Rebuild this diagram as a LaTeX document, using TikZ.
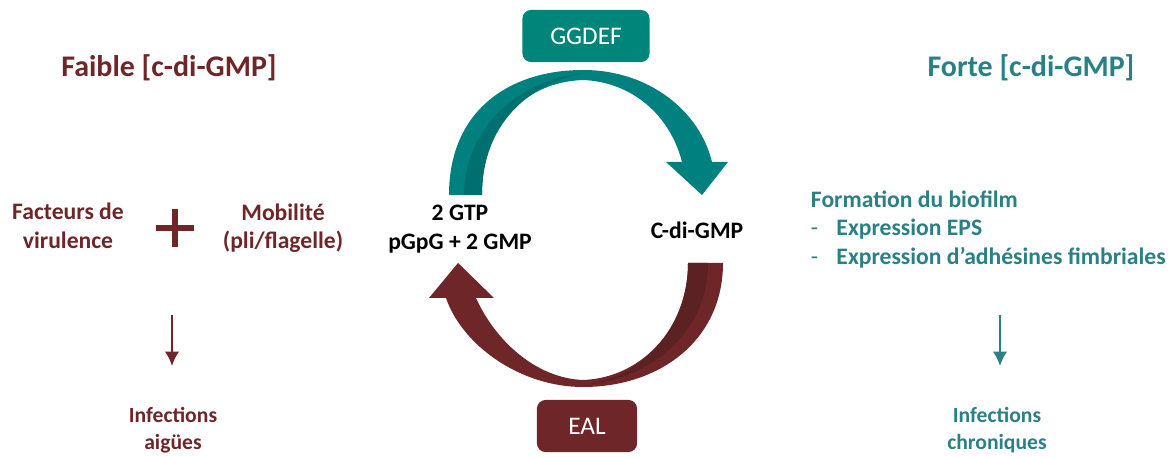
\documentclass[tikz,border=0pt]{standalone}
\usepackage{fontspec}
\setmainfont{Carlito}
\usetikzlibrary{arrows,arrows.meta,calc,positioning}
\definecolor{wine}{HTML}{6E2629}
\definecolor{winedark}{HTML}{5C2223}
\definecolor{teal1}{HTML}{2A8185}
\definecolor{tealbox}{HTML}{00857A}
\definecolor{tealarrow}{HTML}{00807F}
\definecolor{tealdark}{HTML}{006F70}
\tikzstyle{title}=[font=\fontsize{21.3}{25}\selectfont\bfseries]
\tikzstyle{txt}=[font=\fontsize{16.8}{20.2}\selectfont\bfseries,align=center]
\tikzstyle{small}=[font=\fontsize{15.4}{19.5}\selectfont\bfseries,align=center]
\tikzstyle{enz}=[rounded corners=6pt,text=white,minimum height=1.3cm,font=\fontsize{18}{21}\selectfont]
\tikzstyle{down}=[-{Latex[length=0.36cm,width=0.36cm]},line width=1.5pt]

\begin{document}
\begin{tikzpicture}[
      x=0.025cm,y=-0.025cm,
      >=latex'
    ]
      \useasboundingbox (0,0) rectangle (1176,457);

      % top arrow (GGDEF)
      \fill[tealarrow] (449,195) .. controls (449,110) and (510,70) .. (583,70)
        .. controls (650,70) and (700,112) .. (712,162) -- (728,162) -- (702,195)
        -- (666,162) -- (682,162) .. controls (670,115) and (632,82) .. (583,80)
        .. controls (525,82) and (482,125) .. (482,195) -- cycle;
      \fill[tealdark] (464,195) .. controls (465,124) and (522,80) .. (583,73)
        .. controls (528,84) and (482,125) .. (482,195) -- cycle;

      % bottom arrow (EAL)
      \fill[wine] (723,263) .. controls (723,340) and (660,387) .. (583,387)
        .. controls (520,387) and (462,345) .. (446,298) -- (429,298) -- (458,263)
        -- (494,298) -- (476,298) .. controls (495,340) and (535,378) .. (583,380)
        .. controls (640,378) and (688,330) .. (688,263) -- cycle;
      \fill[winedark] (708,263) .. controls (708,333) and (650,380) .. (583,385)
        .. controls (640,378) and (688,330) .. (688,263) -- cycle;

      \node [enz,fill=tealbox,minimum width=3.175cm] (ggdef) at (586,36) {GGDEF};
      \node [enz,fill=wine,minimum width=2.5cm] (eal) at (587,426) {EAL};

      \node [txt] (gtp) at (460,229) {2 GTP\\pGpG + 2 GMP};
      \node [txt] (cdg) at (697,230) {C-di-GMP};

      % faible
      \node [title,text=wine] (faible) at (169,68) {Faible [c-di-GMP]};
      \node [txt,text=wine] (fact) at (68,226) {Facteurs de\\virulence};
      \node [txt,text=wine] (mob) at (283,228) {Mobilit\'e\\(pli/flagelle)};
      \coordinate (plus) at (175,228);
      \draw[wine,line width=4.5pt] ($(plus)+(-19,0)$) -- ($(plus)+(19,0)$)
        ($(plus)+(0,-19)$) -- ($(plus)+(0,19)$);
      \coordinate (fa1) at (172,315);
      \coordinate (fa2) at (172,366);
      \draw[down,wine] (fa1) -- (fa2);
      \node [small,text=wine] (aigue) at (173,430) {Infections\\aig\"ues};

      % forte
      \node [title,text=teal1] (forte) at (1031,68) {Forte [c-di-GMP]};
      \node [txt,text=teal1,align=left,anchor=north west] (bio) at (806,186)
        {Formation du biofilm\\
         \mdseries-\hspace{13pt}\bfseries Expression EPS\\
         \mdseries-\hspace{13pt}\bfseries Expression d'adh\'esines fimbriales};
      \coordinate (fo1) at (1000,315);
      \coordinate (fo2) at (1000,366);
      \draw[down,teal1] (fo1) -- (fo2);
      \node [small,text=teal1] (chron) at (997,430) {Infections\\chroniques};
\end{tikzpicture}
\end{document}
